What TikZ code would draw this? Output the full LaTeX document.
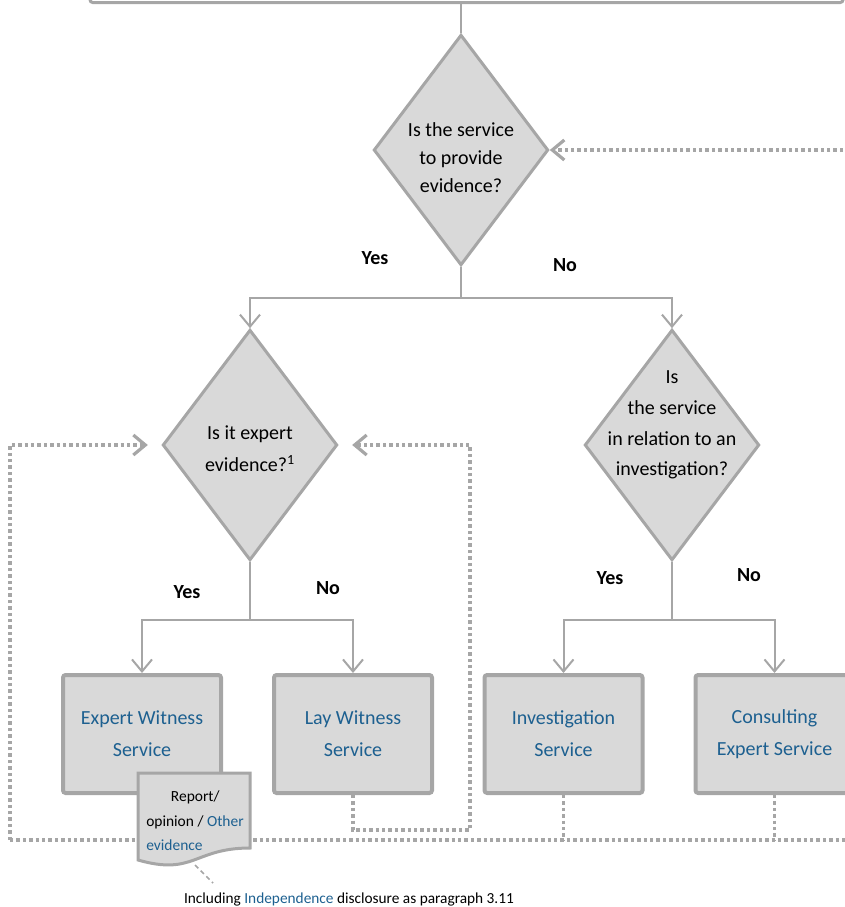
\documentclass[tikz,border=0pt]{standalone}
\usepackage{fontspec}
\setmainfont{Carlito}
\usetikzlibrary{arrows.meta,positioning,fit,shapes.geometric}
\definecolor{flowgray}{HTML}{A6A6A6}
\definecolor{boxgray}{HTML}{D9D9D9}
\definecolor{svcblue}{HTML}{1D6090}

\begin{document}
\begin{tikzpicture}[
    x=0.75pt, y=-0.75pt,
    >={Straight Barb[length=9pt,width=15pt]},
    topbox/.style={draw=flowgray, line width=2.25pt, rounded corners=2pt, inner sep=0pt},
    question/.style={diamond, draw=flowgray, fill=boxgray, line width=2.25pt, minimum width=131pt, minimum height=173pt, inner sep=0pt},
    qtext/.style={align=center, font=\fontsize{15}{23}\selectfont},
    service/.style={draw=flowgray, fill=boxgray, line width=3pt, rounded corners=2pt, minimum width=118.5pt, minimum height=88.5pt, align=center, text=svcblue, font=\fontsize{15}{24}\selectfont},
    answer/.style={font=\bfseries\fontsize{15}{18}\selectfont},
    flowline/.style={draw=flowgray, line width=1.5pt},
    arrow/.style={flowline, ->},
    feedback/.style={draw=flowgray, line width=2.4pt, dash pattern=on 2.6pt off 2.2pt},
    docshape/.style={draw=flowgray, fill=boxgray, line width=2.25pt},
    doctext/.style={align=left, inner sep=0pt, font=\fontsize{11.6}{18.4}\selectfont},
    note/.style={font=\fontsize{11.5}{14}\selectfont}
]
\useasboundingbox (0,0) rectangle (844,907);

% ---- Top box (cut off) ----
\node[topbox, fit={(90,-60) (843,2.5)}] (intro) {};

% ---- Questions ----
\node[question, label={[qtext, font=\fontsize{15}{21}\selectfont, yshift=-6pt]center:Is the service\\to provide\\evidence?}] (q1) at (461,150) {};
\node[question, label={[qtext, font=\fontsize{15}{24}\selectfont, yshift=-3pt]center:Is it expert\\evidence?\textsuperscript{1}}] (q2) at (250,445) {};
\node[question, label={[qtext, yshift=15pt]center:Is\\the service\\in relation to an\\investigation?}] (q3) at (672,445) {};

% ---- Services ----
\node[service] (ew) at (142,734) {Expert Witness\\Service};
\node[service] (lw) at (353,734) {Lay Witness\\Service};
\node[service] (inv) at (563.5,734) {Investigation\\Service};
\node[service] (cons) at (774.5,734) {Consulting\\Expert Service};

% ---- Answers ----
\node[answer] (yes1) at (375,258) {Yes};
\node[answer] (no1) at (565,265) {No};
\node[answer] (yes2) at (187,592) {Yes};
\node[answer] (no2) at (328,588) {No};
\node[answer] (yes3) at (610,578) {Yes};
\node[answer] (no3) at (749,575) {No};

% ---- Connectors ----
\draw[flowline, line width=1pt] (intro.south -| q1.north) -- (q1.north);
\draw[flowline] (q1.south) -- ++(0,31) coordinate (split1);
\draw[arrow] (split1) -| (q2.north);
\draw[arrow] (split1) -| (q3.north);
\draw[flowline] (q2.south) -- ++(0,58) coordinate (split2);
\draw[arrow] (split2) -| (ew.north);
\draw[arrow] (split2) -| (lw.north);
\draw[flowline] (q3.south) -- ++(0,58) coordinate (split3);
\draw[arrow] (split3) -| (inv.north);
\draw[arrow] (split3) -| (cons.north);

% ---- Feedback loops ----
\coordinate (fbL) at (10,840);
\coordinate (fbR) at (856,840);
\coordinate (lwturn) at (470,830);
\draw[feedback, ->, shorten >=10pt] (fbL) |- (q2.west);
\draw[feedback, ->] (fbL) -- (fbR) |- (q1.east);
\draw[feedback] (inv.south) -- (inv.south |- fbL);
\draw[feedback] (cons.south) -- (cons.south |- fbL);
\draw[feedback, ->, shorten >=10pt] (lw.south) |- (lwturn) |- (q2.east);

% ---- Report document ----
\draw[docshape] (138,773) -- (250,773) -- (250,848) .. controls (194,848) and (194,876) .. (138,860) -- cycle;
\node[doctext, anchor=west] (report) at (146,821) {\hspace*{18.5pt}Report/\\opinion / \textcolor{svcblue}{Other}\\\textcolor{svcblue}{evidence}};

% ---- Footnote ----
\node[note] (footnote) at (349,899) {Including \textcolor{svcblue}{Independence} disclosure as paragraph 3.11};
\coordinate (docfoot) at (195,865);
\coordinate (notehook) at (213,883);
\draw[flowline, line width=1.1pt, dash pattern=on 3.5pt off 2.5pt] (docfoot) -- (notehook);

\end{tikzpicture}
\end{document}
